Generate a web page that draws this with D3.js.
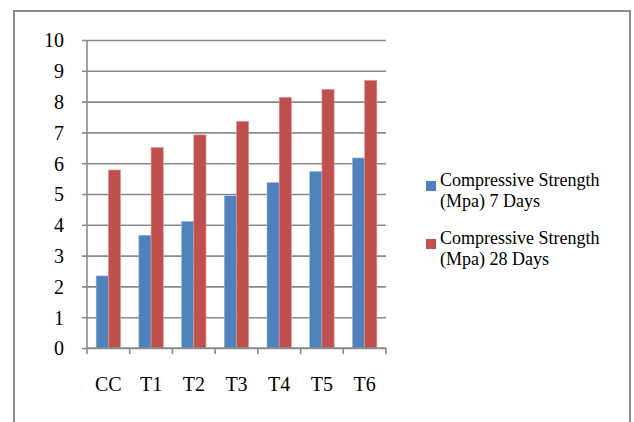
<!DOCTYPE html>
<html>
<head>
<meta charset="utf-8">
<script src="https://cdn.jsdelivr.net/npm/d3@7"></script>
<style>
  body { margin: 0; background: #fff; }
  text { font-family: "Liberation Serif", "Times New Roman", serif; fill: #000; }
</style>
</head>
<body>
<div id="chart"></div>
<script>
// data
const categories = ["CC", "T1", "T2", "T3", "T4", "T5", "T6"];
const seriesNames = ["Compressive Strength (Mpa) 7 Days", "Compressive Strength (Mpa) 28 Days"];
const days7 = [2.34, 3.66, 4.11, 4.94, 5.37, 5.73, 6.17];
const days28 = [5.78, 6.51, 6.92, 7.36, 8.14, 8.40, 8.69];
const yTicks = [0, 1, 2, 3, 4, 5, 6, 7, 8, 9, 10];
const colors = ["#4F81BD", "#C0504D"];

const W = 634, H = 422;
const margin = {top: 40, left: 87};
const width = 299, height = 308;
const serif = '"Liberation Serif", "Times New Roman", serif';

const svg = d3.select("#chart").append("svg")
    .attr("width", W)
    .attr("height", H);

// outer frame
svg.append("rect")
    .attr("x", 14).attr("y", 11)
    .attr("width", 616).attr("height", 440)
    .attr("fill", "none")
    .attr("stroke", "#8c8c8c")
    .attr("stroke-width", 2);

const g = svg.append("g")
    .attr("transform", `translate(${margin.left},${margin.top})`);

const x0 = d3.scaleBand()
    .domain(categories)
    .range([0, width])
    .paddingInner(0).paddingOuter(0);

const x1 = d3.scaleBand()
    .domain([0, 1])
    .range([0, x0.bandwidth()])
    .paddingInner(0).paddingOuter(0.75);

const y = d3.scaleLinear()
    .domain([0, 10])
    .range([height, 0]);

// y axis + gridlines
const yAxis = d3.axisLeft(y)
    .tickValues(yTicks)
    .tickSize(-width)
    .tickPadding(23)
    .tickFormat(d3.format("d"));

const yg = g.append("g").call(yAxis)
    .attr("font-family", serif);
yg.select(".domain").remove();
yg.selectAll(".tick line")
    .attr("x1", -5)
    .attr("stroke", "#8a8a8a")
    .attr("stroke-width", 1.6);
yg.selectAll(".tick text")
    .attr("x", -23)
    .attr("dy", "0.34em")
    .style("font-size", "20px");

// vertical axis line
g.append("line")
    .attr("x1", 0).attr("x2", 0)
    .attr("y1", 0).attr("y2", height)
    .attr("stroke", "#8a8a8a")
    .attr("stroke-width", 1.6);

// bars
const rows = categories.map((c, i) => ({cat: c, vals: [days7[i], days28[i]]}));

g.append("g").selectAll("g")
    .data(rows)
    .join("g")
    .attr("transform", d => `translate(${x0(d.cat)},0)`)
    .selectAll("rect")
    .data(d => d.vals.map((v, k) => ({k: k, v: v})))
    .join("rect")
    .attr("x", d => x1(d.k))
    .attr("y", d => y(d.v))
    .attr("width", x1.bandwidth())
    .attr("height", d => height - y(d.v))
    .attr("fill", d => colors[d.k])
    .attr("stroke", d => d.k === 0 ? "#9bb5d8" : "#dc9c9a")
    .attr("stroke-width", 0.6);

// x axis with boundary ticks
const xAxis = d3.axisBottom(x0).tickSize(0).tickPadding(0);
const xg = g.append("g")
    .attr("transform", `translate(0,${height})`)
    .call(xAxis)
    .attr("font-family", serif);
xg.select(".domain")
    .attr("d", `M0,0H${width}`)
    .attr("stroke", "#8a8a8a")
    .attr("stroke-width", 1.6);
xg.selectAll(".tick text")
    .attr("y", 43)
    .attr("dy", 0)
    .style("font-size", "20px");

xg.selectAll(".bound")
    .data(categories.concat(["end"]))
    .join("line")
    .attr("class", "bound")
    .attr("x1", (d, i) => i < categories.length ? x0(d) : width)
    .attr("x2", (d, i) => i < categories.length ? x0(d) : width)
    .attr("y1", 0).attr("y2", 6)
    .attr("stroke", "#8a8a8a")
    .attr("stroke-width", 1.6);

// legend
const legend = svg.append("g")
    .attr("transform", "translate(426,181)");

const item = legend.selectAll("g")
    .data(seriesNames)
    .join("g")
    .attr("transform", (d, i) => `translate(0,${i * 58})`);

item.append("rect")
    .attr("width", 10).attr("height", 10)
    .attr("fill", (d, i) => colors[i]);

item.append("text")
    .attr("x", 14)
    .attr("y", 5)
    .style("font-size", "18px")
    .each(function(d) {
        const parts = [d.slice(0, 20), d.slice(21)];
        d3.select(this).selectAll("tspan")
            .data(parts)
            .join("tspan")
            .attr("x", 14)
            .attr("dy", (p, j) => j === 0 ? 0 : 21)
            .text(p => p);
    });
</script>
</body>
</html>
